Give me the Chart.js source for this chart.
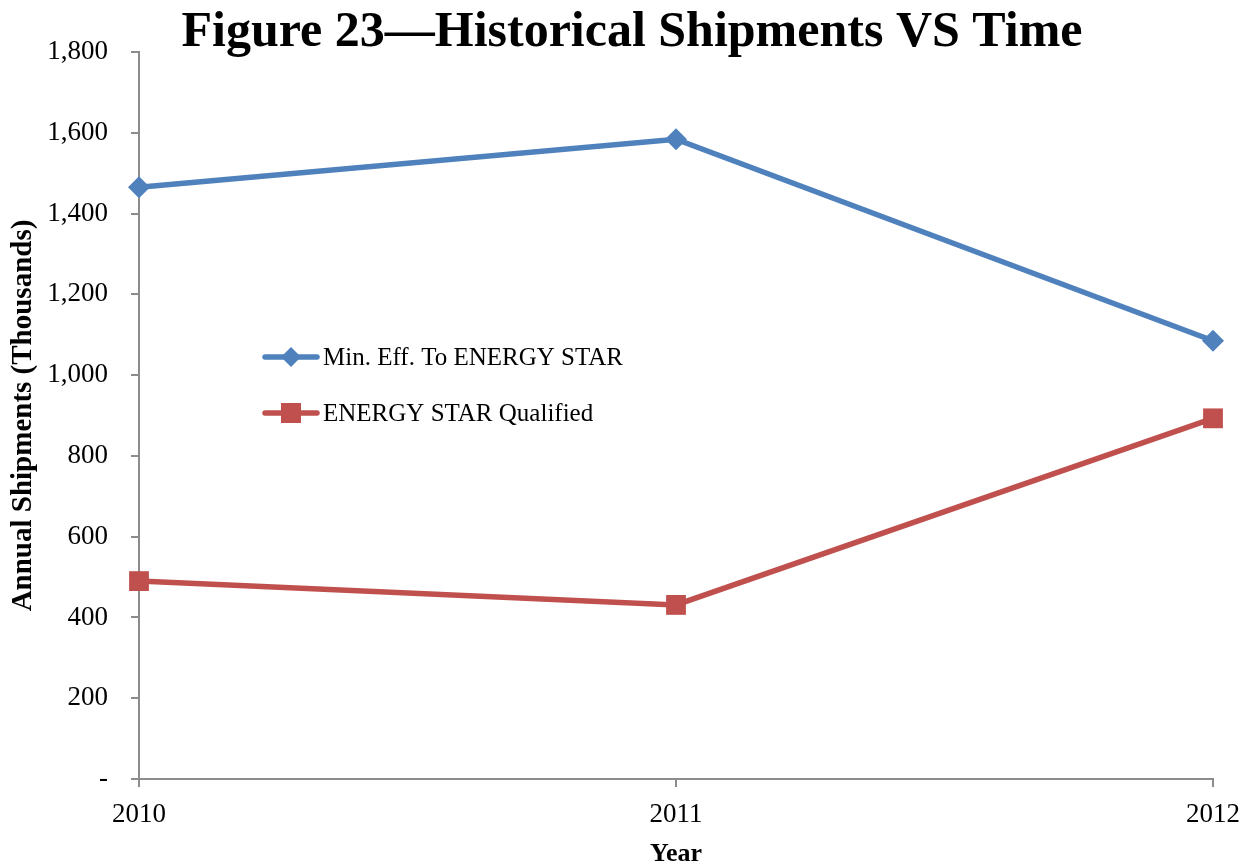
<!DOCTYPE html>
<html>
<head>
<meta charset="utf-8">
<script src="https://cdn.jsdelivr.net/npm/chart.js@4"></script>
<style>
body{margin:0;background:#fff}
#wrap{width:1244px;height:863px}
</style>
</head>
<body>
<div id="wrap"><canvas id="myLine"></canvas></div>
<script>
var years = ["2010", "2011", "2012"];
var minEff = [1465, 1584, 1085];
var qualified = [490, 431, 893];
var yMax = 1800;
var yStep = 200;

var serif = "'Liberation Serif', 'Times New Roman', serif";
var blue = "#4F81BD";
var red = "#C0504D";
var axisGray = "#8c8c8c";

// legend sits inside the plot area, drawn by hand
var innerLegend = {
  id: 'innerLegend',
  afterDraw: function(chart) {
    var ctx = chart.ctx;
    var items = [
      {text: "Min. Eff. To ENERGY STAR", color: blue, shape: 'diamond', y: 357},
      {text: "ENERGY STAR Qualified", color: red, shape: 'square', y: 413}
    ];
    ctx.save();
    items.forEach(function(it) {
      ctx.strokeStyle = it.color;
      ctx.fillStyle = it.color;
      ctx.lineWidth = 5.5;
      ctx.lineCap = 'round';
      ctx.beginPath();
      ctx.moveTo(265, it.y);
      ctx.lineTo(317, it.y);
      ctx.stroke();
      ctx.beginPath();
      if (it.shape == 'diamond') {
        ctx.moveTo(291, it.y - 10);
        ctx.lineTo(301, it.y);
        ctx.lineTo(291, it.y + 10);
        ctx.lineTo(281, it.y);
        ctx.closePath();
      } else {
        ctx.rect(281, it.y - 10, 20, 20);
      }
      ctx.fill();
      ctx.fillStyle = '#000';
      ctx.font = "25px " + serif;
      ctx.textBaseline = 'middle';
      ctx.textAlign = 'left';
      ctx.fillText(it.text, 323, it.y + 1);
    });
    ctx.restore();
  }
};

var ctx = document.getElementById('myLine');
var lineChart = new Chart(ctx, {
  type: 'line',
  data: {
    labels: years,
    datasets: [{
      label: "Min. Eff. To ENERGY STAR",
      data: minEff,
      borderColor: blue,
      backgroundColor: blue,
      borderWidth: 5.5,
      pointStyle: 'rectRot',
      pointRadius: 11,
      pointBorderWidth: 0,
      fill: false,
      tension: 0
    }, {
      label: "ENERGY STAR Qualified",
      data: qualified,
      borderColor: red,
      backgroundColor: red,
      borderWidth: 5.5,
      pointStyle: 'rect',
      pointRadius: 14,
      pointBorderWidth: 0,
      fill: false,
      tension: 0
    }]
  },
  options: {
    responsive: true,
    maintainAspectRatio: false,
    animation: false,
    layout: {padding: {left: 20, right: 0, top: 0, bottom: 0}},
    plugins: {
      legend: {display: false},
      tooltip: {enabled: false},
      title: {
        display: true,
        text: "Figure 23\u2014Historical Shipments VS Time",
        color: '#000',
        font: {family: serif, size: 50, weight: 'bold'},
        padding: {top: 3, bottom: -11}
      }
    },
    scales: {
      x: {
        type: 'category',
        offset: false,
        grid: {drawOnChartArea: false, drawTicks: true, tickLength: 8, color: axisGray, lineWidth: 2},
        border: {display: true, color: axisGray, width: 2},
        ticks: {color: '#000', font: {family: serif, size: 27}, padding: 12, maxRotation: 0},
        title: {display: true, text: "Year", color: '#000', font: {family: serif, size: 26, weight: 'bold'}, padding: {top: 0, bottom: -7}},
        afterFit: function(s) { s.height = 84; s.paddingLeft = 0; s.paddingRight = 31; }
      },
      y: {
        min: 0,
        max: yMax,
        grid: {drawOnChartArea: false, drawTicks: true, tickLength: 8, color: axisGray, lineWidth: 2},
        border: {display: true, color: axisGray, width: 2},
        ticks: {
          stepSize: yStep,
          color: '#000',
          font: {family: serif, size: 27},
          padding: 23,
          callback: function(v) { return v === 0 ? '-' : v.toLocaleString('en-US'); }
        },
        title: {display: true, text: "Annual Shipments (Thousands)", color: '#000', font: {family: serif, size: 29, weight: 'bold'}, padding: {top: -14, bottom: 0}},
        afterFit: function(s) { s.width = 119; s.paddingTop = 0; s.paddingBottom = 0; }
      }
    }
  },
  plugins: [innerLegend]
});
</script>
</body>
</html>
